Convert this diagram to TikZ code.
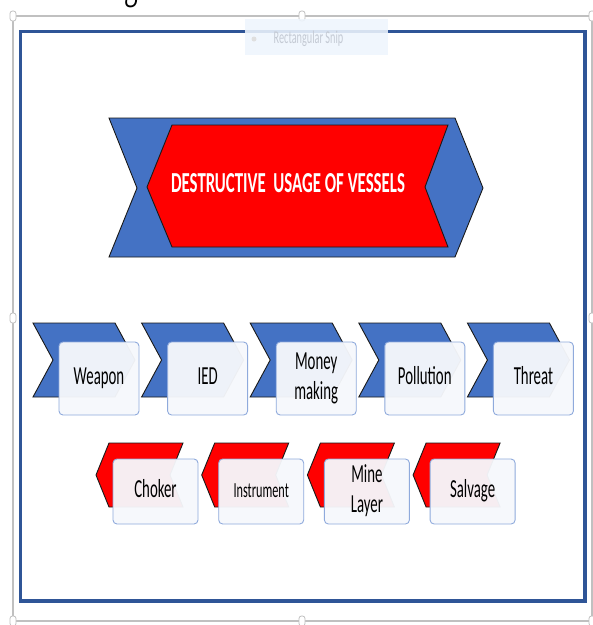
\documentclass[tikz,border=0pt]{standalone}
\usepackage{fontspec}
\setmainfont{Carlito}
\newfontfamily\serifface{Liberation Serif}
\definecolor{chevblue}{RGB}{68,114,196}
\definecolor{frameblue}{RGB}{47,85,151}
\definecolor{boxedge}{RGB}{143,170,220}
\definecolor{boxfill}{RGB}{246,248,252}
\definecolor{selgray}{RGB}{192,192,192}
\definecolor{tipfill}{RGB}{238,245,253}
\definecolor{tiptext}{RGB}{196,202,212}
\newcommand\sqz[2][0.57]{\scalebox{#1}[1]{\begin{tabular}{@{}c@{}}#2\end{tabular}}}
\tikzset{
  chev/.style={draw=black!90, line width=0.9pt, line join=miter},
  card/.style={draw=boxedge, line width=0.9pt, rounded corners=4pt, fill=boxfill,
    fill opacity=0.955, text opacity=1, inner sep=0pt, text=black,
    font=\fontsize{26}{30}\selectfont},
  handle/.style={draw=selgray, fill=white, line width=0.8pt, rounded corners=2.5pt,
    minimum width=6pt, minimum height=10pt, inner sep=0pt},
  selline/.style={draw=selgray, line width=1.3pt}
}
\begin{document}
\begin{tikzpicture}[x=1pt,y=-1pt]
\useasboundingbox (0,0) rectangle (593,625);
\fill[white] (0,0) rectangle (593,625);

% partly visible text above the frame (cut off by the top edge, as in the reference)
\node[anchor=base, inner sep=0pt, font=\serifface\fontsize{48}{48}\selectfont] (prev) at (105,-3) {\scalebox{0.57}[1]{rankings.}};

% selection frame
\coordinate (c1) at (13,16);  \coordinate (c2) at (302,16);  \coordinate (c3) at (592,16);
\coordinate (c4) at (13,318); \coordinate (c5) at (592,318);
\coordinate (c6) at (13,621); \coordinate (c7) at (302,621); \coordinate (c8) at (592,621);
\draw[selline] (c1) -- (c3) -- (c8) -- (c6) -- cycle;
\foreach \k in {1,...,8}{\node[handle] (h\k) at (c\k) {};}

% blue frame
\draw[frameblue, line width=3.5pt] (20.5,31.5) rectangle (585,601);

% tooltip
\fill[tipfill, opacity=0.88] (245,19) rectangle (388,55);
\fill[gray!25] (254,39) circle (2.5);
\node[inner sep=0pt, text=tiptext, font=\fontsize{18}{18}\selectfont] (tip) at (308.5,39) {\scalebox{0.57}[1]{Rectangular Snip}};

% main chevrons
\draw[chev, fill=chevblue] (109,118) -- (455,118) -- (483,188) -- (455,257) -- (109,257) -- (137,188) -- cycle;
\draw[chev, fill=red] (172,125) -- (448,125) -- (425,187) -- (448,247) -- (172,247) -- (147,187) -- cycle;
\node[anchor=base, inner sep=0pt, text=white, font=\fontsize{29}{29}\selectfont\bfseries] (title) at (288,192) {\scalebox{0.58}[1]{DESTRUCTIVE\ \ USAGE OF VESSELS}};

% first row
\foreach \t [count=\i from 0] in {Weapon,IED,{Money\\making},Pollution,Threat}{
  \pgfmathsetmacro\xo{33+108.6*\i}
  \draw[chev, fill=chevblue] (\xo,323) -- ++(82,0) -- ++(20,37) -- ++(-20,37) -- ++(-82,0) -- ++(20,-37) -- cycle;
  \node[card, minimum width=80pt, minimum height=73pt] (top\i) at (\xo+66,378.5) {\sqz{\t}};
}

% second row
\foreach \t [count=\i from 0] in {Choker,{\fontsize{21.5}{26}\selectfont Instrument},{Mine\\Layer},Salvage}{
  \pgfmathsetmacro\tx{96+105.7*\i}
  \draw[chev, fill=red] (\tx,475) -- (\tx+13,443) -- (\tx+87,443) -- (\tx+74,475) -- (\tx+87,507) -- (\tx+13,507) -- cycle;
  \node[card, minimum width=85pt, minimum height=65pt] (bot\i) at (\tx+59.5,491.5) {\sqz{\t}};
}
\end{tikzpicture}
\end{document}
